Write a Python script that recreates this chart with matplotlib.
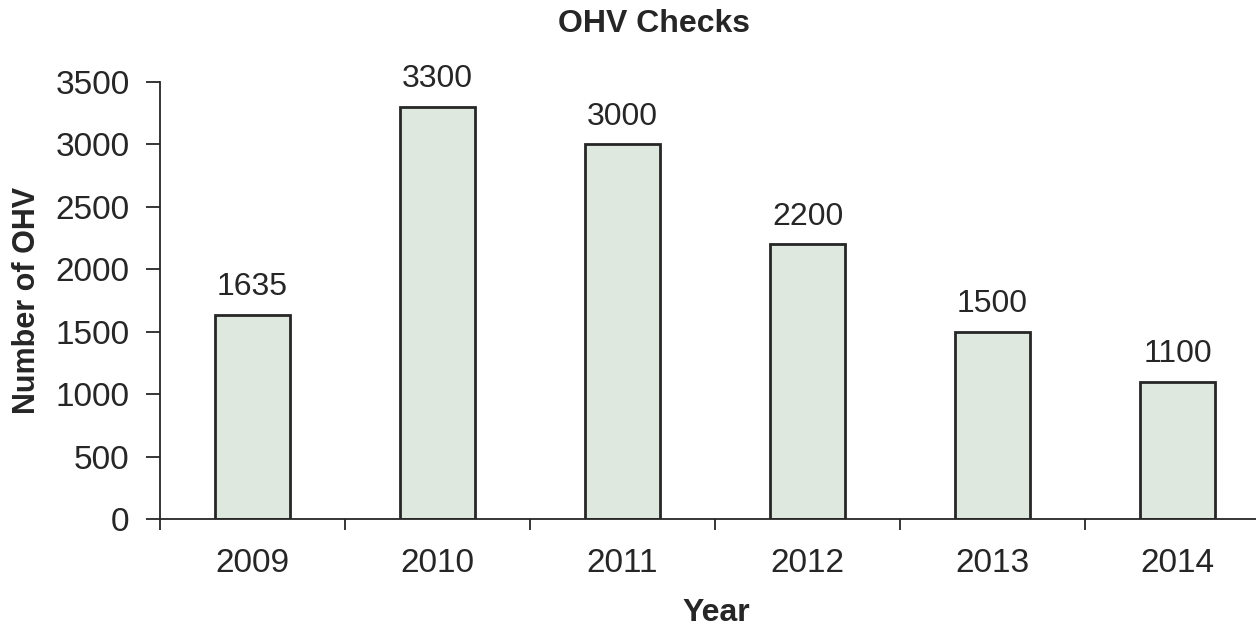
import matplotlib
matplotlib.use("Agg")
import matplotlib.pyplot as plt

years = ["2009", "2010", "2011", "2012", "2013", "2014"]
checks = [1635, 3300, 3000, 2200, 1500, 1100]
yticks = [0, 500, 1000, 1500, 2000, 2500, 3000, 3500]

plt.rcParams["font.family"] = ["Liberation Sans", "DejaVu Sans"]
ink = "#262626"

fig = plt.figure(figsize=(12.56, 6.30), dpi=100)
ax = fig.add_axes([160 / 1256, 111 / 630, 1110 / 1256, 437 / 630])

x = list(range(len(years)))
ax.bar(x, checks, width=0.405, color="#dfe8df", edgecolor=ink, linewidth=2)

for xi, v in zip(x, checks):
    ax.annotate(f"{v}", (xi, v), xytext=(0, 9), textcoords="offset points",
                ha="center", va="bottom", fontsize=23, color=ink)

ax.set_xlim(-0.5, len(years) - 0.5)
ax.set_ylim(0, 3500)
ax.set_yticks(yticks)
ax.set_yticklabels([str(t) for t in yticks], fontsize=24, color=ink)

ax.set_xticks(x)
ax.set_xticklabels(years, fontsize=24, color=ink)
ax.tick_params(axis="x", length=0, pad=21)
ax.set_xticks([i + 0.5 for i in range(-1, len(years))], minor=True)
ax.tick_params(axis="x", which="minor", length=8, width=1.3, direction="out", color=ink)
ax.tick_params(axis="y", length=10, width=1.3, direction="out", pad=12, color=ink)

for s in ["top", "right"]:
    ax.spines[s].set_visible(False)
for s in ["left", "bottom"]:
    ax.spines[s].set_linewidth(1.3)
    ax.spines[s].set_color(ink)

fig.text(27 / 1256, 1 - 300 / 630, "Number of OHV", fontsize=22, fontweight="bold",
         rotation=90, ha="center", va="center", color=ink)
fig.text(716 / 1256, 1 - 613 / 630, "Year", fontsize=23, fontweight="bold",
         ha="center", va="center", color=ink)
fig.text(654 / 1256, 1 - 24 / 630, "OHV Checks", fontsize=23, fontweight="bold",
         ha="center", va="center", color=ink)

fig.savefig("out.png", dpi=100)
